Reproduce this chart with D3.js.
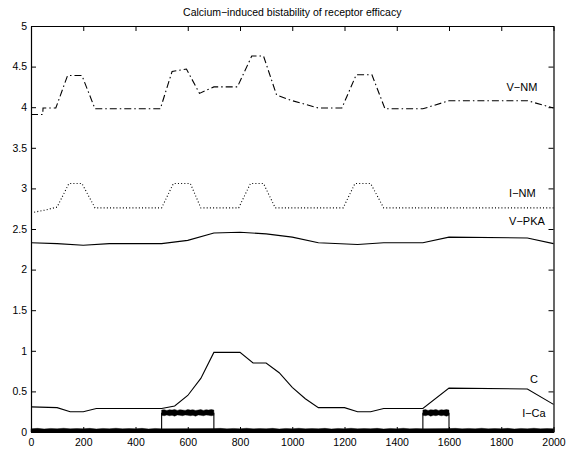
<!DOCTYPE html>
<html>
<head>
<meta charset="utf-8">
<script src="https://cdn.jsdelivr.net/npm/d3@7"></script>
<style>
    body { margin: 0; background: #fff; }
    svg { font-family: "Liberation Sans", Arial, Helvetica, sans-serif; }
    .axis path, .axis line { stroke: #000; }
    .axis text { fill: #000; font-size: 10.5px; }
</style>
</head>
<body>
<script>
// Chart data (x in time units, y in arbitrary units)
var xTicks = [0, 200, 400, 600, 800, 1000, 1200, 1400, 1600, 1800, 2000];
var yTicks = [0, 0.5, 1, 1.5, 2, 2.5, 3, 3.5, 4, 4.5, 5];

// V-NM, dash-dot trace
var vnmT = [0, 45, 46, 95, 140, 195, 245, 495, 540, 595, 645, 700, 790,
            845, 890, 940, 1000, 1100, 1190, 1245, 1305, 1355, 1500, 1600,
            1900, 2000];
var vnmV = [3.91, 3.91, 3.99, 3.99, 4.39, 4.39, 3.98, 3.98, 4.44, 4.47,
            4.17, 4.25, 4.25, 4.63, 4.63, 4.15, 4.08, 3.99, 3.99, 4.40,
            4.40, 3.98, 3.98, 4.08, 4.08, 3.99];

// I-NM, dotted trace
var inmT = [0, 50, 100, 145, 195, 245, 500, 545, 610, 650, 795, 840, 890,
            935, 1195, 1240, 1300, 1350, 2000];
var inmV = [2.70, 2.73, 2.77, 3.06, 3.06, 2.76, 2.76, 3.06, 3.06, 2.76,
            2.76, 3.06, 3.06, 2.76, 2.76, 3.06, 3.06, 2.76, 2.76];

// V-PKA, solid trace
var vpkaT = [0, 100, 200, 300, 500, 600, 700, 800, 900, 1000, 1100, 1250,
             1350, 1500, 1600, 1900, 2000];
var vpkaV = [2.33, 2.32, 2.30, 2.32, 2.32, 2.36, 2.45, 2.46, 2.44, 2.40,
             2.33, 2.31, 2.33, 2.33, 2.40, 2.39, 2.32];

// C, solid trace
var cT = [0, 100, 150, 200, 250, 500, 550, 600, 650, 700, 800, 850, 900,
          950, 1000, 1050, 1100, 1200, 1250, 1300, 1350, 1500, 1600, 1900,
          2000];
var cV = [0.31, 0.30, 0.25, 0.25, 0.29, 0.29, 0.32, 0.45, 0.66, 0.98, 0.98,
          0.85, 0.85, 0.73, 0.55, 0.41, 0.30, 0.30, 0.25, 0.25, 0.29, 0.29,
          0.54, 0.53, 0.34];

// I-Ca: step trace plus the spread of its noise
var icaT = [0, 500, 500, 700, 700, 1500, 1500, 1600, 1600, 2000];
var icaV = [0.02, 0.02, 0.23, 0.23, 0.02, 0.02, 0.23, 0.23, 0.02, 0.02];

var noiseT = [0, 25, 50, 75, 100, 125, 150, 175, 200, 225, 250, 275, 300,
              325, 350, 375, 400, 425, 450, 475, 500, 700, 725, 750, 775,
              800, 825, 850, 875, 900, 925, 950, 975, 1000, 1025, 1050,
              1075, 1100, 1125, 1150, 1175, 1200, 1225, 1250, 1275, 1300,
              1325, 1350, 1375, 1400, 1425, 1450, 1475, 1500, 1600, 1625,
              1650, 1675, 1700, 1725, 1750, 1775, 1800, 1825, 1850, 1875,
              1900, 1925, 1950, 1975, 2000];
var noiseHi = [0.04, 0.045, 0.038, 0.044, 0.04, 0.046, 0.039, 0.043, 0.041,
               0.045, 0.038, 0.044, 0.04, 0.046, 0.039, 0.043, 0.041, 0.045,
               0.038, 0.044, 0.04, 0.042, 0.045, 0.039, 0.044, 0.04, 0.046,
               0.039, 0.043, 0.041, 0.045, 0.038, 0.044, 0.04, 0.046, 0.039,
               0.043, 0.041, 0.045, 0.038, 0.044, 0.04, 0.046, 0.039, 0.043,
               0.041, 0.045, 0.038, 0.044, 0.04, 0.046, 0.039, 0.043, 0.041,
               0.042, 0.045, 0.039, 0.044, 0.04, 0.046, 0.039, 0.043, 0.041,
               0.045, 0.038, 0.044, 0.04, 0.046, 0.039, 0.043, 0.041];

var burst1T = [500, 510, 520, 530, 540, 550, 560, 570, 580, 590, 600, 610,
               620, 630, 640, 650, 660, 670, 680, 690, 700];
var burst1Lo = [0.205, 0.2, 0.21, 0.2, 0.205, 0.195, 0.21, 0.205, 0.2, 0.21,
                0.205, 0.2, 0.205, 0.195, 0.21, 0.205, 0.2, 0.21, 0.205,
                0.2, 0.205];
var burst1Hi = [0.27, 0.275, 0.265, 0.275, 0.27, 0.278, 0.266, 0.275, 0.27,
                0.266, 0.276, 0.27, 0.275, 0.265, 0.27, 0.276, 0.266, 0.275,
                0.27, 0.276, 0.27];

var burst2T = [1500, 1510, 1520, 1530, 1540, 1550, 1560, 1570, 1580, 1590,
               1600];
var burst2Lo = [0.205, 0.2, 0.21, 0.195, 0.205, 0.2, 0.21, 0.2, 0.205,
                0.195, 0.205];
var burst2Hi = [0.27, 0.276, 0.266, 0.275, 0.27, 0.278, 0.266, 0.275, 0.27,
                0.276, 0.27];

var labels = [
    {text: "V\u2212NM", x: 1820, y: 4.2},
    {text: "I\u2212NM", x: 1830, y: 2.90},
    {text: "V\u2212PKA", x: 1830, y: 2.55},
    {text: "C", x: 1910, y: 0.60},
    {text: "I\u2212Ca", x: 1880, y: 0.19}
];

// Figure layout (plotLeft etc. so we do not clash with window.top)
var W = 567, H = 450;
var plotLeft = 31, plotRight = 553.5, plotTop = 26, plotBottom = 432;

var svg = d3.select("body").append("svg")
    .attr("width", W)
    .attr("height", H);

var x = d3.scaleLinear().domain([0, 2000]).range([plotLeft, plotRight]);
var y = d3.scaleLinear().domain([0, 5]).range([plotBottom, plotTop]);

function zip(ts, vs) {
    return ts.map(function(t, i) { return [t, vs[i]]; });
}

var line = d3.line()
    .x(function(d) { return x(d[0]); })
    .y(function(d) { return y(d[1]); });

var plot = svg.append("g");

// noise bands of I-Ca, drawn first so the traces sit on top
var band = d3.area()
    .x(function(d) { return x(d[0]); })
    .y0(function(d) { return y(d[1]); })
    .y1(function(d) { return y(d[2]); });

function bandRows(ts, lo, hi) {
    return ts.map(function(t, i) {
        return [t, lo ? lo[i] : 0, hi[i]];
    });
}

plot.append("path")
    .attr("d", band(bandRows(noiseT, null, noiseHi)))
    .attr("fill", "#000")
    .attr("stroke", "#000")
    .attr("stroke-width", 0.4);

[[burst1T, burst1Lo, burst1Hi], [burst2T, burst2Lo, burst2Hi]]
    .forEach(function(b) {
        plot.append("path")
            .attr("d", band(bandRows(b[0], b[1], b[2])))
            .attr("fill", "#000")
            .attr("stroke", "#000")
            .attr("stroke-width", 0.4);
    });

var series = [
    {t: vnmT, v: vnmV, dash: "7,3,1.5,3"},
    {t: inmT, v: inmV, dash: "1,2.2"},
    {t: vpkaT, v: vpkaV, dash: null},
    {t: cT, v: cV, dash: null},
    {t: icaT, v: icaV, dash: null}
];

series.forEach(function(s) {
    plot.append("path")
        .attr("d", line(zip(s.t, s.v)))
        .attr("fill", "none")
        .attr("stroke", "#000")
        .attr("stroke-width", 1.1)
        .attr("stroke-dasharray", s.dash);
});

// axes: MATLAB style box with inward ticks on all four sides
var fmt = function(d) { return String(d); };

svg.append("g")
    .attr("class", "axis")
    .attr("transform", "translate(0," + plotBottom + ")")
    .call(d3.axisBottom(x).tickValues(xTicks).tickFormat(fmt)
        .tickSizeInner(-5).tickSizeOuter(0).tickPadding(7));

svg.append("g")
    .attr("class", "axis")
    .attr("transform", "translate(0," + plotTop + ")")
    .call(d3.axisTop(x).tickValues(xTicks).tickFormat("")
        .tickSizeInner(-5).tickSizeOuter(0));

svg.append("g")
    .attr("class", "axis")
    .attr("transform", "translate(" + plotLeft + ",0)")
    .call(d3.axisLeft(y).tickValues(yTicks).tickFormat(fmt)
        .tickSizeInner(-5).tickSizeOuter(0).tickPadding(4));

svg.append("g")
    .attr("class", "axis")
    .attr("transform", "translate(" + plotRight + ",0)")
    .call(d3.axisRight(y).tickValues(yTicks).tickFormat("")
        .tickSizeInner(-5).tickSizeOuter(0));

svg.selectAll(".axis path").attr("stroke-width", 1.2);

// series labels
svg.selectAll(".lab")
    .data(labels)
    .enter()
    .append("text")
    .attr("class", "lab")
    .attr("x", function(d) { return x(d.x); })
    .attr("y", function(d) { return y(d.y); })
    .attr("font-size", "11px")
    .text(function(d) { return d.text; });

// title
svg.append("text")
    .attr("x", (plotLeft + plotRight) / 2)
    .attr("y", 15.5)
    .attr("text-anchor", "middle")
    .attr("font-size", "10.5px")
    .text("Calcium\u2212induced bistability of receptor efficacy");
</script>
</body>
</html>
